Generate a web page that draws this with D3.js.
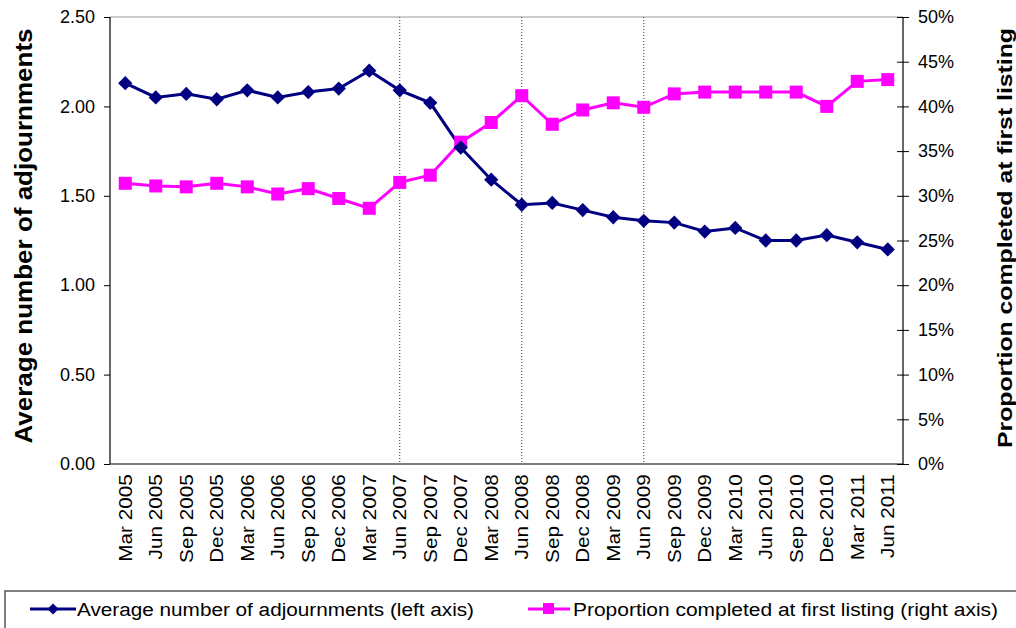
<!DOCTYPE html>
<html>
<head>
<meta charset="utf-8">
<script src="https://cdn.jsdelivr.net/npm/d3@7.9.0/dist/d3.min.js"></script>
<style>
  body { margin: 0; background: #fff; }
  svg { font-family: Arial, "Liberation Sans", sans-serif; }
</style>
</head>
<body>
<svg width="1016" height="628"></svg>
<script>
const quarters = ['Mar 2005','Jun 2005','Sep 2005','Dec 2005','Mar 2006','Jun 2006','Sep 2006','Dec 2006',
  'Mar 2007','Jun 2007','Sep 2007','Dec 2007','Mar 2008','Jun 2008','Sep 2008','Dec 2008',
  'Mar 2009','Jun 2009','Sep 2009','Dec 2009','Mar 2010','Jun 2010','Sep 2010','Dec 2010',
  'Mar 2011','Jun 2011'];
const adjournments = [2.13,2.05,2.07,2.04,2.09,2.05,2.08,2.10,2.20,2.09,2.02,1.77,1.59,1.45,1.46,1.42,
  1.38,1.36,1.35,1.30,1.32,1.25,1.25,1.28,1.24,1.20];
const firstListing = [31.4,31.1,31.0,31.4,31.0,30.2,30.8,29.7,28.6,31.5,32.3,36.0,38.2,41.2,38.0,39.6,
  40.4,39.9,41.4,41.6,41.6,41.6,41.6,40.0,42.8,43.0];
const leftTicks = [0,0.5,1,1.5,2,2.5];
const rightTicks = [0,5,10,15,20,25,30,35,40,45,50];
const markerLines = ['Jun 2007','Jun 2008','Jun 2009'];

const blue = '#000080', pink = '#ff00ff';
const svg = d3.select('svg');
const L = 110, R = 903, T = 17, B = 464;

const x = d3.scaleBand().domain(quarters).range([L, R]);
const yL = d3.scaleLinear().domain([0, 2.5]).range([B, T]);
const yR = d3.scaleLinear().domain([0, 50]).range([B, T]);
const cx = d => x(d) + x.bandwidth() / 2;

// top border
svg.append('line').attr('x1', L).attr('x2', R).attr('y1', T).attr('y2', T)
  .attr('stroke', '#999').attr('stroke-width', 1);

// dotted reference lines
markerLines.forEach(q => {
  svg.append('line').attr('x1', cx(q)).attr('x2', cx(q)).attr('y1', T).attr('y2', B)
    .attr('stroke', '#333').attr('stroke-width', 1).attr('stroke-dasharray', '1,2');
});

// left axis
const gl = svg.append('g').attr('transform', `translate(${L},0)`)
  .call(d3.axisLeft(yL).tickValues(leftTicks).tickFormat(d3.format('.2f')).tickSize(6).tickPadding(9));
// right axis
const gr = svg.append('g').attr('transform', `translate(${R},0)`)
  .call(d3.axisRight(yR).tickValues(rightTicks).tickFormat(d => d + '%').tickSize(6).tickPadding(9));
gr.selectAll('.tick line').attr('x1', -6);
// bottom axis
const gb = svg.append('g').attr('transform', `translate(0,${B})`)
  .call(d3.axisBottom(x).tickSize(0).tickPadding(10));

[gl, gr, gb].forEach(g => {
  g.selectAll('path').attr('stroke', '#000').attr('stroke-width', 1.2);
  g.selectAll('.tick line').attr('stroke', '#000');
  g.selectAll('text').attr('font-size', 18).attr('fill', '#000')
    .attr('font-family', 'Arial, "Liberation Sans", sans-serif');
});
gb.selectAll('text').attr('transform', 'rotate(-90) scale(1.15,1)').attr('text-anchor', 'end')
  .attr('x', -9).attr('y', 0).attr('dy', '0.35em');
gl.select('.domain').attr('d', `M0,${T}V${B}`);
gr.select('.domain').attr('d', `M0,${T}V${B}`);
gb.select('.domain').attr('d', `M${L},0H${R}`);

// axis titles
svg.append('text').attr('transform', `translate(32,236) rotate(-90)`)
  .attr('text-anchor', 'middle').attr('font-size', 24).attr('font-weight', 'bold')
  .attr('textLength', 415).attr('lengthAdjust', 'spacingAndGlyphs')
  .text('Average number of adjournments');
svg.append('text').attr('transform', `translate(1012,238) rotate(-90)`)
  .attr('text-anchor', 'middle').attr('font-size', 21).attr('font-weight', 'bold')
  .attr('textLength', 420).attr('lengthAdjust', 'spacingAndGlyphs')
  .text('Proportion completed at first listing');

// series
const diamond = d3.symbol().type(d3.symbolDiamond2).size(130);

svg.append('path').datum(firstListing)
  .attr('fill', 'none').attr('stroke', pink).attr('stroke-width', 3)
  .attr('d', d3.line().x((d, i) => cx(quarters[i])).y(d => yR(d)));
svg.append('path').datum(adjournments)
  .attr('fill', 'none').attr('stroke', blue).attr('stroke-width', 3)
  .attr('d', d3.line().x((d, i) => cx(quarters[i])).y(d => yL(d)));

svg.selectAll('.sq').data(firstListing).join('rect')
  .attr('x', (d, i) => cx(quarters[i]) - 6.5).attr('y', d => yR(d) - 6.5)
  .attr('width', 13).attr('height', 13).attr('fill', pink);
svg.selectAll('.dm').data(adjournments).join('path')
  .attr('transform', (d, i) => `translate(${cx(quarters[i])},${yL(d)})`)
  .attr('d', diamond).attr('fill', blue);

// legend
const lg = svg.append('g');
lg.append('rect').attr('x', 5).attr('y', 591).attr('width', 1020).attr('height', 50)
  .attr('fill', 'none').attr('stroke', '#555').attr('stroke-width', 1.5);
lg.append('line').attr('x1', 30).attr('x2', 76).attr('y1', 609).attr('y2', 609)
  .attr('stroke', blue).attr('stroke-width', 3);
lg.append('path').attr('transform', 'translate(53,609)').attr('d', d3.symbol().type(d3.symbolDiamond2).size(80)).attr('fill', blue);
lg.append('text').attr('x', 77).attr('y', 616).attr('font-size', 18)
  .attr('textLength', 397).attr('lengthAdjust', 'spacingAndGlyphs')
  .text('Average number of adjournments (left axis)');
lg.append('line').attr('x1', 528).attr('x2', 570).attr('y1', 609).attr('y2', 609)
  .attr('stroke', pink).attr('stroke-width', 3);
lg.append('rect').attr('x', 543).attr('y', 603).attr('width', 11).attr('height', 11).attr('fill', pink);
lg.append('text').attr('x', 573).attr('y', 616).attr('font-size', 18)
  .attr('textLength', 425).attr('lengthAdjust', 'spacingAndGlyphs')
  .text('Proportion completed at first listing (right axis)');
</script>
</body>
</html>
